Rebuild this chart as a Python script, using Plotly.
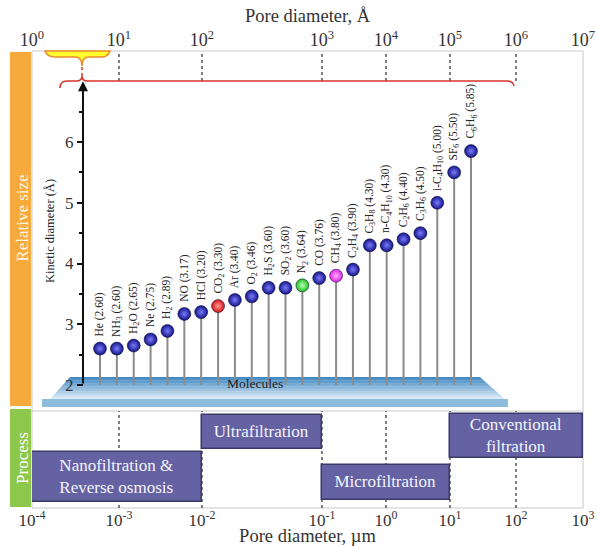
import plotly.graph_objects as go

# ---------------- data ----------------
MOLECULES = ["He", "NH3", "H2O", "Ne", "H2", "NO", "HCl", "CO2", "Ar", "O2", "H2S", "SO2",
             "N2", "CO", "CH4", "C2H4", "C3H8", "n-C4H10", "C2H6", "C3H6", "i-C4H10", "SF6", "C6H6"]
MOLECULE_LABELS = ["He", "NH<sub>3</sub>", "H<sub>2</sub>O", "Ne", "H<sub>2</sub>", "NO", "HCl",
                   "CO<sub>2</sub>", "Ar", "O<sub>2</sub>", "H<sub>2</sub>S", "SO<sub>2</sub>",
                   "N<sub>2</sub>", "CO", "CH<sub>4</sub>", "C<sub>2</sub>H<sub>4</sub>",
                   "C<sub>3</sub>H<sub>8</sub>", "n-C<sub>4</sub>H<sub>10</sub>",
                   "C<sub>2</sub>H<sub>6</sub>", "C<sub>3</sub>H<sub>6</sub>",
                   "i-C<sub>4</sub>H<sub>10</sub>", "SF<sub>6</sub>", "C<sub>6</sub>H<sub>6</sub>"]
KINETIC_DIAMETER = [2.60, 2.60, 2.65, 2.75, 2.89, 3.17, 3.20, 3.30, 3.40, 3.46, 3.60, 3.60,
                    3.64, 3.76, 3.80, 3.90, 4.30, 4.30, 4.40, 4.50, 5.00, 5.50, 5.85]

PROCESS_NAMES = ["Nanofiltration &<br>Reverse osmosis", "Ultrafiltration",
                 "Microfiltration", "Conventional<br>filtration"]
PROCESS_FROM_EXP = [-4, -2, -1, 1]   # log10(µm)
PROCESS_TO_EXP = [-2, -1, 1, 3]

EXP_UM = [-4, -3, -2, -1, 0, 1, 2, 3]
EXP_A = [0, 1, 2, 3, 4, 5, 6, 7]
KD_TICKS = [2, 3, 4, 5, 6]
KD_MINOR = [2.5, 3.5, 4.5, 5.5, 6.5]

# ---------------- layout / style ----------------
FONT = "Liberation Serif, Times New Roman, DejaVu Serif, serif"
W_FIG, H_FIG = 597, 546
L, R, T, B = 32, 583, 51, 508
PW, PH = R - L, B - T
SPLIT_PX = 411

def px(x):
    return (x - L) / PW

def py(y):
    return (B - y) / PH

SPLIT = py(SPLIT_PX)
# hand-drawn (non uniform) decade positions, px from left frame
DECADE_POS = [0, 87, 170, 290, 354, 418, 484, 551]
# vertical placement of process boxes (px from panel top): (top, bottom)
PROCESS_ROWS = [(41, 91), (4, 38), (54, 89), (3, 47)]
PANEL_H = B - SPLIT_PX

BALL_COLORS = {"CO2": ("#d41414", "#ff9a9a"), "N2": ("#1fbf1f", "#b8ffb8"),
               "CH4": ("#dd22dd", "#ffb0ff")}
DEFAULT_BALL = ("#141485", "#7a7aff")

# kinetic axis: 2 -> 385 px, 6 -> 142 px
U = (385 - 142) / 4.0
KD_RANGE = [2 - (SPLIT_PX - 385) / U, 6 + (142 - T) / U]
# molecule axis: index 0 -> 100 px, 22 -> 471 px
SX = (471 - 100) / 22.0
MOL_RANGE = [-(100 - L) / SX, (R - 100) / SX]

fig = go.Figure()

# dummy for the top axis (main subplot of the upper panel)
fig.add_trace(go.Scatter(x=[DECADE_POS[0]], y=[KD_RANGE[0]], xaxis="x2", yaxis="y",
                         mode="markers", marker=dict(opacity=0), showlegend=False,
                         hoverinfo="skip"))

# stems
sx, sy = [], []
for m, v in zip(MOLECULES, KINETIC_DIAMETER):
    sx += [m, m, None]
    sy += [2, v, None]
fig.add_trace(go.Scatter(x=sx, y=sy, mode="lines", xaxis="x3", yaxis="y",
                         line=dict(color="#8c8c8c", width=2), hoverinfo="skip",
                         showlegend=False))

# balls
for m, v in zip(MOLECULES, KINETIC_DIAMETER):
    c, g = BALL_COLORS.get(m, DEFAULT_BALL)
    fig.add_trace(go.Scatter(x=[m], y=[v], mode="markers", xaxis="x3", yaxis="y",
                             marker=dict(size=13, color=c,
                                         gradient=dict(type="radial", color=g),
                                         line=dict(width=0.5, color="#050530")),
                             showlegend=False, hoverinfo="skip"))

# process boxes
for name, e0, e1, (t0, t1) in zip(PROCESS_NAMES, PROCESS_FROM_EXP, PROCESS_TO_EXP, PROCESS_ROWS):
    x0 = DECADE_POS[EXP_UM.index(e0)]
    x1 = DECADE_POS[EXP_UM.index(e1)]
    fig.add_trace(go.Bar(orientation="h", base=[x0], x=[x1 - x0], y=[(t0 + t1) / 2],
                         width=[t1 - t0], xaxis="x", yaxis="y2", text=[name],
                         textposition="inside", insidetextanchor="middle", textangle=0,
                         constraintext="none",
                         textfont=dict(family=FONT, size=17, color="#f4f4fa"),
                         marker=dict(color="#6562a3", line=dict(color="#3b3968", width=1.5)),
                         showlegend=False, hoverinfo="skip"))

shapes = []
# frame & split
shapes.append(dict(type="rect", xref="paper", yref="paper", x0=0, x1=1, y0=0, y1=1,
                   line=dict(color="#c9c9c9", width=1), layer="below"))
shapes.append(dict(type="line", xref="paper", yref="paper", x0=0, x1=1, y0=SPLIT, y1=SPLIT,
                   line=dict(color="#c9c9c9", width=1), layer="below"))
# side bars
shapes.append(dict(type="rect", xref="paper", yref="paper", x0=px(10), x1=px(31),
                   y0=py(406), y1=py(52), fillcolor="#f6aa3c", line=dict(width=0),
                   layer="above"))
shapes.append(dict(type="rect", xref="paper", yref="paper", x0=px(10), x1=px(31),
                   y0=py(507), y1=py(409), fillcolor="#8dc74c", line=dict(width=0),
                   layer="above",
                   label=dict(text="Process", textangle=-90, textposition="middle center",
                              font=dict(family=FONT, size=17, color="#ffffff"))))
# label holder for the orange bar (text sits slightly above the bar centre)
shapes.append(dict(type="rect", xref="paper", yref="paper", x0=px(10), x1=px(31),
                   y0=py(406), y1=py(30), fillcolor="rgba(0,0,0,0)", line=dict(width=0),
                   layer="above",
                   label=dict(text="Relative size", textangle=-90, textposition="middle center",
                              font=dict(family=FONT, size=17, color="#fff6e6"))))

# dotted decade lines
for p in DECADE_POS[1:-1]:
    shapes.append(dict(type="line", xref="x", yref="paper", x0=p, x1=p, y0=py(81), y1=1,
                       line=dict(color="#555555", width=1.5, dash="dot"), layer="below"))
    shapes.append(dict(type="line", xref="x", yref="paper", x0=p, x1=p, y0=0, y1=SPLIT,
                       line=dict(color="#555555", width=1.5, dash="dot"), layer="below"))

# platform (gradient top face + front slab)
N = 14
top_c = (62, 134, 194)
bot_c = (224, 237, 248)
for k in range(N):
    f0, f1 = k / N, (k + 1) / N
    ya, yb = 377 + 22 * f0, 377 + 22 * f1
    xla, xlb = 70 - 20 * f0, 70 - 20 * f1
    xra, xrb = 480 + 25 * f0, 480 + 25 * f1
    f = (f0 + f1) / 2
    col = "rgb(%d,%d,%d)" % tuple(int(a + (b - a) * f) for a, b in zip(top_c, bot_c))
    path = "M %f,%f L %f,%f L %f,%f L %f,%f Z" % (px(xla), py(ya), px(xra), py(ya),
                                                   px(xrb), py(yb + 0.4), px(xlb), py(yb + 0.4))
    shapes.append(dict(type="path", xref="paper", yref="paper", path=path,
                       fillcolor=col, line=dict(width=0), layer="below"))
shapes.append(dict(type="rect", xref="paper", yref="paper", x0=px(42), x1=px(508),
                   y0=py(407), y1=py(399), fillcolor="#8dbcdc", line=dict(width=0),
                   layer="below"))


def pth(cmds):
    out = []
    for c in cmds:
        if isinstance(c, str):
            out.append(c)
        else:
            out.append("%f,%f" % (px(c[0]), py(c[1])))
    return " ".join(out)

# yellow brace
shapes.append(dict(type="path", xref="paper", yref="paper",
                   path=pth(["M", (45, 51), "Q", (47, 57), (55, 57), "L", (75, 57), "Q", (82, 57),
                             (82, 66), "Q", (82, 57), (89, 57), "L", (102, 57), "Q", (108, 57),
                             (110, 51), "Z"]),
                   fillcolor="#ffff2e", line=dict(color="#ee8a2a", width=1.5)))
# red long brace
shapes.append(dict(type="path", xref="paper", yref="paper",
                   path=pth(["M", (60, 88), "Q", (60, 81), (67, 81), "L", (76, 81), "Q", (82, 81),
                             (82, 76), "Q", (82, 81), (88, 81), "L", (507, 81), "Q", (513, 81),
                             (514, 86)]),
                   line=dict(color="#d8342a", width=1.5)))
shapes.append(dict(type="line", xref="paper", yref="paper", x0=px(82), x1=px(82),
                   y0=py(67), y1=py(76), line=dict(color="#d8342a", width=1.5, dash="dot")))

annotations = []
# kinetic axis arrow
annotations.append(dict(x=px(83), y=7.0, xref="paper", yref="y", ax=0, ay=2, axref="pixel",
                        ayref="y", showarrow=True, arrowhead=2, arrowsize=1, arrowwidth=2,
                        arrowcolor="#111111", text=""))
# molecule labels
for m, lab, v in zip(MOLECULES, MOLECULE_LABELS, KINETIC_DIAMETER):
    annotations.append(dict(x=m, y=v, xref="x3", yref="y", text="%s (%.2f)" % (lab, v),
                            textangle=-90, showarrow=False, xanchor="center", yanchor="bottom",
                            yshift=10, font=dict(family=FONT, size=11.5, color="#222222")))
annotations.append(dict(x=px(255), y=py(393), xref="paper", yref="paper", text="Molecules",
                        showarrow=False, font=dict(family=FONT, size=13.5, color="#222222")))

tick_font_top = dict(family=FONT, size=18, color="#333333")
tick_font_bot = dict(family=FONT, size=17, color="#333333")
title_font = dict(family=FONT, size=18.5, color="#333333")

fig.update_layout(
    width=W_FIG, height=H_FIG,
    margin=dict(l=L, r=W_FIG - R, t=T, b=H_FIG - B, pad=0, autoexpand=False),
    paper_bgcolor="white", plot_bgcolor="rgba(0,0,0,0)",
    font=dict(family=FONT),
    showlegend=False, bargap=0,
    shapes=shapes, annotations=annotations,
    xaxis=dict(domain=[0, 1], anchor="y2", range=[0, PW], tickvals=DECADE_POS,
               ticktext=["10<sup>%d</sup>" % e for e in EXP_UM], tickfont=tick_font_bot,
               showgrid=False, zeroline=False, showline=False, ticks="", automargin=False,
               title=dict(text="Pore diameter, µm", font=title_font, standoff=3)),
    xaxis2=dict(domain=[0, 1], anchor="y", side="top", range=[0, PW], tickvals=DECADE_POS,
                ticktext=["10<sup>%d</sup>" % e for e in EXP_A], tickfont=tick_font_top,
                showgrid=False, zeroline=False, showline=False, ticks="", automargin=False,
                title=dict(text="Pore diameter, Å", font=title_font, standoff=0)),
    xaxis3=dict(overlaying="x2", anchor="y", type="category", categoryorder="array",
                categoryarray=MOLECULES, range=MOL_RANGE, visible=False),
    yaxis=dict(domain=[SPLIT, 1], anchor="free", position=px(83), range=KD_RANGE,
               tickvals=KD_TICKS, ticks="outside", ticklen=6, tickwidth=1.5, tickcolor="#111111",
               minor=dict(tickvals=KD_MINOR, ticks="outside", ticklen=4, tickwidth=1.5,
                          tickcolor="#111111"),
               tickfont=dict(family=FONT, size=17, color="#333333"),
               showgrid=False, zeroline=False, showline=False,
               automargin=False,
               title=dict(text="Kinetic diameter (Å)", font=dict(family=FONT, size=12.5, color="#222222"),
                          standoff=6)),
    yaxis2=dict(domain=[0, SPLIT], anchor="x", range=[PANEL_H, 0], visible=False),
)

fig.write_html("out.html", config={"displayModeBar": False},
               post_script="document.body.style.margin='0';document.body.style.padding='0';")
